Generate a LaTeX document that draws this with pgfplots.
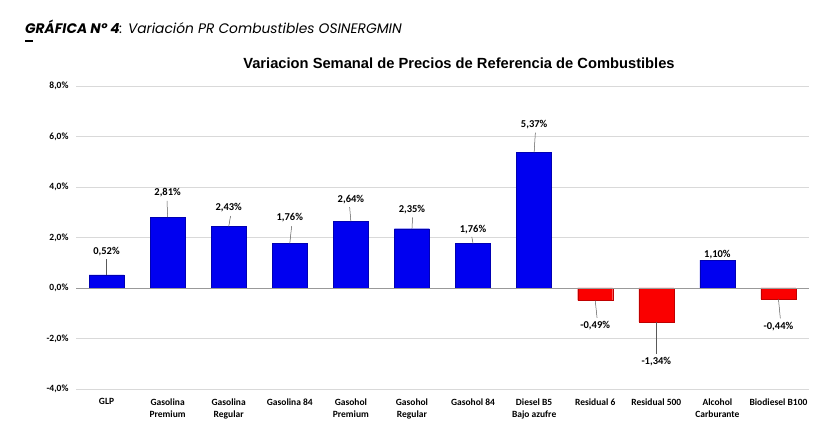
\documentclass[border=0pt]{standalone}
\usepackage{fontspec}
\setmainfont{Carlito}
\newfontfamily\titlefont{Liberation Sans}
\newfontfamily\headfont{Poppins}
\usepackage{pgfplots}
\pgfplotsset{compat=1.18}
\definecolor{barblue}{RGB}{0,0,240}
\definecolor{barred}{RGB}{250,0,0}
\begin{document}
\begin{tikzpicture}[x=1bp,y=1bp]
\fill[white] (0,0) rectangle (824,446);
\path[use as bounding box] (0,0) rectangle (824,446);
\node[anchor=base west,inner sep=0pt] at (25,412) {\headfont\fontsize{13.8bp}{16bp}\selectfont\bfseries\itshape GRÁFICA Nº 4\mdseries: Variación PR Combustibles OSINERGMIN};
\draw[black,line width=1.2bp] (25,405) -- (33,405);
\node[anchor=center,inner sep=0pt] at (459,383) {\titlefont\fontsize{14.7bp}{17bp}\selectfont\bfseries Variacion Semanal de Precios de Referencia de Combustibles};
\begin{axis}[
  at={(76bp,57bp)}, anchor=south west,
  scale only axis, width=733bp, height=303bp,
  xmin=-0.5, xmax=11.5, ymin=-4, ymax=8,
  axis line style={draw=none},
  ytick={-4,-2,0,2,4,6,8},
  yticklabels={-4{,}0\%,-2{,}0\%,0{,}0\%,2{,}0\%,4{,}0\%,6{,}0\%,8{,}0\%},
  xtick={0,...,11},
  xticklabels={GLP,Gasolina\\Premium,Gasolina\\Regular,Gasolina 84,Gasohol\\Premium,Gasohol\\Regular,Gasohol 84,Diesel B5\\Bajo azufre,Residual 6,Residual 500,Alcohol\\Carburante,Biodiesel B100},
  xticklabel style={align=center,font=\fontsize{9.5bp}{12bp}\selectfont\bfseries,anchor=north,yshift=-2bp},
  yticklabel style={font=\fontsize{9.5bp}{11bp}\selectfont\bfseries,xshift=-4bp},
  ymajorgrids, major grid style={gray!30,line width=0.8bp},
  tick style={draw=none},
  ybar, bar width=35bp, bar shift=0pt,
  clip=false,
]
\addplot[fill=barblue,draw=blue!70!black,line width=0.3bp] coordinates {(0,0.52) (1,2.81) (2,2.43) (3,1.76) (4,2.64) (5,2.35) (6,1.76) (7,5.37) (10,1.10)};
\addplot[fill=barred,draw=red!75!black,line width=0.3bp] coordinates {(8,-0.49) (9,-1.34) (11,-0.44)};
\draw[gray!80,line width=0.8bp] (axis cs:-0.5,0) -- (axis cs:11.5,0);
% leader lines
\draw[gray!70!black,line width=0.5bp] (axis cs:0,0.52) -- (axis cs:0,1.15);
\draw[gray!70!black,line width=0.5bp] (axis cs:1,2.81) -- (axis cs:0.99,3.45);
\draw[gray!70!black,line width=0.5bp] (axis cs:2,2.43) -- (axis cs:2.03,2.85);
\draw[gray!70!black,line width=0.5bp] (axis cs:3,1.76) -- (axis cs:3.03,2.45);
\draw[gray!70!black,line width=0.5bp] (axis cs:4,2.64) -- (axis cs:3.98,3.2);
\draw[gray!70!black,line width=0.5bp] (axis cs:5,2.35) -- (axis cs:5.01,2.8);
\draw[gray!70!black,line width=0.5bp] (axis cs:6,1.76) -- (axis cs:5.98,2.02);
\draw[gray!70!black,line width=0.5bp] (axis cs:7,5.37) -- (axis cs:7.02,6.15);
\draw[gray!70!black,line width=0.5bp] (axis cs:8,-0.49) -- (axis cs:8.03,-1.18);
\draw[gray!70!black,line width=0.5bp] (axis cs:9,-1.34) -- (axis cs:9,-2.6);
\draw[gray!70!black,line width=0.5bp] (axis cs:11,-0.44) -- (axis cs:11.03,-1.2);
% data labels
\begin{scope}[every node/.style={font=\fontsize{10.5bp}{12bp}\selectfont\bfseries,inner sep=0pt}]
\node at (axis cs:0,1.43) {0,52\%};
\node at (axis cs:1,3.76) {2,81\%};
\node at (axis cs:2,3.17) {2,43\%};
\node at (axis cs:3,2.77) {1,76\%};
\node at (axis cs:4,3.49) {2,64\%};
\node at (axis cs:5,3.09) {2,35\%};
\node at (axis cs:6,2.30) {1,76\%};
\node at (axis cs:7,6.46) {5,37\%};
\node at (axis cs:8,-1.50) {-0,49\%};
\node at (axis cs:9,-2.93) {-1,34\%};
\node at (axis cs:10,1.31) {1,10\%};
\node at (axis cs:11,-1.54) {-0,44\%};
\end{scope}
\end{axis}
\end{tikzpicture}
\end{document}
